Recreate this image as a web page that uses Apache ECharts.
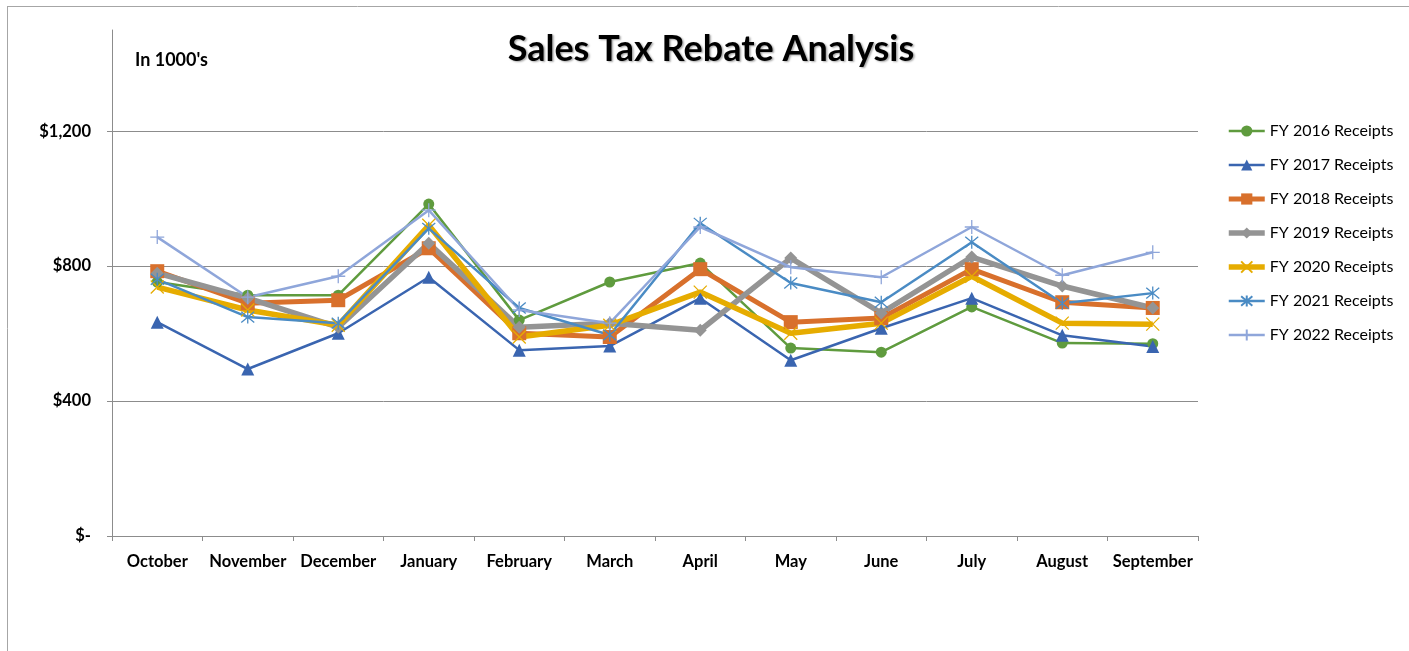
<!DOCTYPE html>
<html>
<head>
<meta charset="utf-8">
<script src="https://cdn.jsdelivr.net/npm/echarts@6/dist/echarts.min.js"></script>
<style>
html,body{margin:0;padding:0;background:#fff;}
#c{width:1409px;height:651px;}
</style>
</head>
<body>
<div id="c"></div>
<script>
const months = ['October','November','December','January','February','March','April','May','June','July','August','September'];
const yTicks = [0, 400, 800, 1200];
const fy2016 = [753, 714, 714, 984, 640, 753, 809, 557, 545, 679, 572, 570];
const fy2017 = [634, 495, 601, 767, 551, 563, 705, 521, 616, 705, 595, 562];
const fy2018 = [785, 690, 699, 853, 601, 590, 791, 634, 646, 791, 693, 676];
const fy2019 = [779, 705, 619, 868, 619, 631, 610, 824, 661, 827, 741, 676];
const fy2020 = [738, 670, 625, 921, 590, 625, 723, 601, 631, 770, 631, 628];
const fy2021 = [761, 649, 631, 912, 676, 596, 927, 750, 693, 871, 690, 720];
const fy2022 = [886, 708, 770, 966, 670, 631, 916, 797, 767, 916, 773, 841];
const names = ['FY 2016 Receipts','FY 2017 Receipts','FY 2018 Receipts','FY 2019 Receipts','FY 2020 Receipts','FY 2021 Receipts','FY 2022 Receipts'];
const widths = [2.5, 2.5, 5, 5.5, 5.5, 2.5, 2.5];

const FONT = 'Lato';
const xMark = 'path://M0,0L10,10M10,0L0,10';
const star = 'path://M0,0L10,10M10,0L0,10M5,-1L5,11';
const plus = 'path://M5,0L5,10M0,5L10,5';

function mk(name, data, color, width, symbol, size, open) {
  return {
    name: name, type: 'line', data: data,
    symbol: symbol, symbolSize: size,
    lineStyle: {color: color, width: width},
    itemStyle: open ? {color: color, borderColor: color, borderWidth: 1.3} : {color: color, borderWidth: 0},
    emphasis: {disabled: true},
    z: 2
  };
}

const series = [
  mk(names[0], fy2016, '#5f9b3e', widths[0], 'circle', 11, false),
  mk(names[1], fy2017, '#3a65b0', widths[1], 'triangle', 13, false),
  mk(names[2], fy2018, '#d8702c', widths[2], 'rect', 14, false),
  mk(names[3], fy2019, '#949494', widths[3], 'diamond', 13, false),
  mk(names[4], fy2020, '#e6ac00', widths[4], xMark, 13, true),
  mk(names[5], fy2021, '#4a8bc4', widths[5], star, 13, true),
  mk(names[6], fy2022, '#8fa6da', widths[6], plus, 14, true)
];

const chart = echarts.init(document.getElementById('c'));
chart.setOption({
  animation: false,
  backgroundColor: '#fff',
  title: {
    text: 'Sales Tax Rebate Analysis',
    left: 706, textAlign: 'center', top: 26,
    textStyle: {fontFamily: FONT, fontSize: 36, fontWeight: 'bold', color: '#000',
      textShadowColor: 'rgba(0,0,0,0.35)', textShadowBlur: 2, textShadowOffsetX: 1.5, textShadowOffsetY: 1.5}
  },
  graphic: [
    {type: 'line', shape: {x1: 7, y1: 6.5, x2: 1409, y2: 6.5}, style: {stroke: '#a6a6a6', lineWidth: 1}, silent: true},
    {type: 'line', shape: {x1: 7.5, y1: 6, x2: 7.5, y2: 651}, style: {stroke: '#a6a6a6', lineWidth: 1}, silent: true},
    {type: 'text', left: 135, top: 51, style: {text: "In 1000's", font: 'bold 18px ' + FONT, fill: '#000'}, silent: true}
  ],
  legend: {
    orient: 'vertical', left: 1221, top: 118,
    itemWidth: 36, itemHeight: 14, itemGap: 18,
    data: names.map(function (n, i) { return {name: n, lineStyle: {width: widths[i]}}; }),
    textStyle: {fontFamily: FONT, fontSize: 16, color: '#000'},
    selectedMode: false
  },
  grid: {left: 112, right: 211, top: 30, bottom: 115, containLabel: false},
  xAxis: {
    type: 'category', data: months, boundaryGap: true,
    axisLine: {lineStyle: {color: '#8c8c8c', width: 1}},
    axisTick: {show: true, inside: false, length: 5, lineStyle: {color: '#8c8c8c'}},
    axisLabel: {color: '#000', fontFamily: FONT, fontSize: 16.5, fontWeight: 'bold', margin: 17, interval: 0},
    splitLine: {show: false}
  },
  yAxis: {
    type: 'value', min: 0, max: 1500, interval: 400,
    axisLine: {show: true, lineStyle: {color: '#8c8c8c', width: 1}},
    axisTick: {show: true, length: 5, lineStyle: {color: '#8c8c8c'}, customValues: yTicks},
    axisLabel: {color: '#000', fontFamily: FONT, fontSize: 16.5, fontWeight: 'bold', margin: 21,
      customValues: yTicks,
      formatter: function (v) { return v === 0 ? '$-' : '$' + v.toLocaleString('en-US'); }},
    splitLine: {show: true, lineStyle: {color: '#8c8c8c', width: 1}}
  },
  series: series
});
</script>
</body>
</html>
